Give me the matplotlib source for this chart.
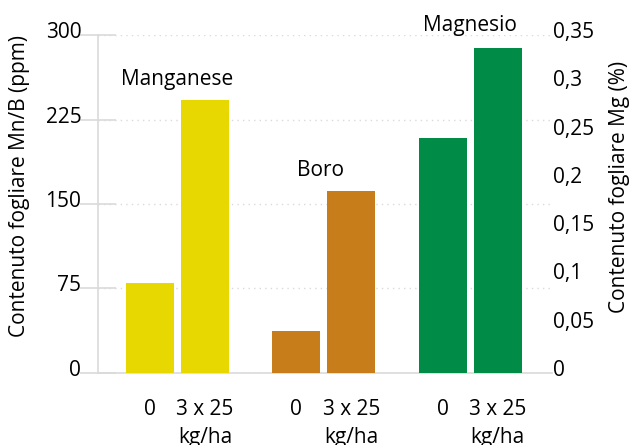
import numpy as np
import matplotlib.pyplot as plt
import matplotlib.transforms as mtrans

# Leaf content data (Mn and B in ppm on left axis, Mg in % on right axis)
groups = ["Manganese", "Boro", "Magnesio"]
doses = ["0", "3 x 25\nkg/ha"]
mn_vals = [80, 242]
b_vals = [37, 162]
mg_vals = [0.243, 0.337]

bar_cols = ["#E6D800", "#C77E1A", "#008C47"]
grid_col = "#DADADA"

plt.rcParams['font.family'] = ['Open Sans', 'DejaVu Sans']
plt.rcParams['font.size'] = 15

fig = plt.figure(figsize=(6.32, 4.45), dpi=100)
ax = fig.add_axes([0.155, 0.162, 0.718, 0.759])
ax2 = ax.twinx()

group_step = 2.664
width = 0.873
offs = np.array([-0.5, 0.5])
centres = np.arange(len(groups)) * group_step

ax.bar(centres[0] + offs, mn_vals, width, color=bar_cols[0], zorder=3)
ax.bar(centres[1] + offs, b_vals, width, color=bar_cols[1], zorder=3)
ax2.bar(centres[2] + offs, mg_vals, width, color=bar_cols[2], zorder=3)

ax.set_xlim(-1.445, centres[-1] + 1.48)
ax.set_ylim(0, 300)
ax2.set_ylim(0, 0.35)

ax.set_yticks([0, 75, 150, 225, 300])
ax2.set_yticks(np.arange(0, 0.351, 0.05))
ax2.set_yticklabels(["0", "0,05", "0,1", "0,15", "0,2", "0,25", "0,3", "0,35"])

# x tick labels under every bar
xt = np.concatenate([c + offs for c in centres])
ax.set_xticks(xt)
ax.set_xticklabels(doses * len(groups), linespacing=1.45)
ax.tick_params(axis='x', length=0, pad=19)

ax.grid(axis='y', color=grid_col, linestyle=(0, (1, 3)), linewidth=1, zorder=0)
ax.tick_params(axis='y', direction='inout', length=26, width=1.2, color=grid_col, pad=-1)
ax2.tick_params(axis='y', length=0, pad=1)

# y tick labels sit a little above their gridlines
lift = mtrans.ScaledTranslation(0, 5 / 100, fig.dpi_scale_trans)
for lab in ax.get_yticklabels() + ax2.get_yticklabels():
    lab.set_transform(lab.get_transform() + lift)

for s in ["top", "right"]:
    ax.spines[s].set_visible(False)
for s in ["top", "right", "left", "bottom"]:
    ax2.spines[s].set_visible(False)
ax.spines["left"].set_color(grid_col)
ax.spines["bottom"].set_color(grid_col)
ax.spines["left"].set_linewidth(1.2)
ax.spines["bottom"].set_linewidth(1.2)

ax.set_ylabel("Contenuto fogliare Mn/B (ppm)")
ax2.set_ylabel("Contenuto fogliare Mg (%)")
ax.yaxis.set_label_coords(-0.150, 0.552)
ax2.yaxis.set_label_coords(1.126, 0.552)

# group names above the bars
ax.text(centres[0], 261, groups[0], ha='center', va='center')
ax.text(centres[1] - 0.055, 180, groups[1], ha='center', va='center')
ax2.text(centres[2], 0.360, groups[2], ha='center', va='center')

plt.savefig('out.png', dpi=100)
